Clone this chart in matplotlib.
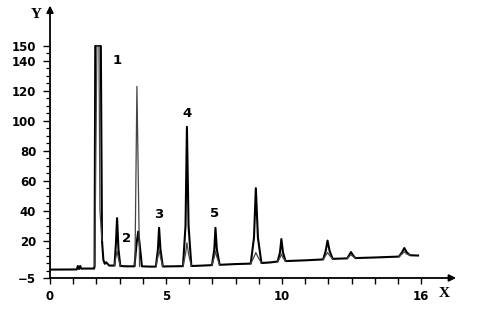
import matplotlib
matplotlib.use("Agg")
import matplotlib.pyplot as plt

# ---- data ----
trace_a_x = [0.0, 1.15, 1.2, 1.25, 1.3, 1.35, 1.45, 1.9,
             1.92, 1.95, 2.19, 2.24, 2.3, 2.36, 2.42, 2.55,
             2.78, 2.84, 2.89, 2.95, 3.03, 3.3,
             3.64, 3.73, 3.8, 3.86, 3.96, 4.3,
             4.56, 4.65, 4.7, 4.76, 4.86, 5.3,
             5.73, 5.84, 5.9, 5.97, 6.09, 6.6,
             6.98, 7.08, 7.13, 7.19, 7.31, 8.0,
             8.65, 8.79, 8.87, 8.96, 9.11, 9.5,
             9.81, 9.91, 9.97, 10.04, 10.15, 11.0,
             11.77, 11.88, 11.96, 12.05, 12.18, 12.6,
             12.81, 12.9, 12.97, 13.05, 13.16, 14.0,
             15.04, 15.17, 15.27, 15.37, 15.51, 15.86]
trace_a_y = [0.6, 0.7, 3.0, 1.0, 3.0, 1.2, 1.3, 1.3,
             3.0, 150, 150, 20, 7, 4.5, 5.5, 3.3,
             3.3, 18, 35, 14, 3.0, 2.8,
             2.8, 18, 26, 18, 2.8, 2.6,
             2.6, 14, 28.5, 14, 2.7, 2.8,
             2.9, 30, 96, 30, 3.0, 3.3,
             3.6, 14, 28.5, 14, 3.8, 4.3,
             4.6, 22, 55, 22, 5.0, 5.4,
             6.0, 12, 21, 12, 6.3, 6.8,
             7.4, 13, 20, 13, 7.8, 8.0,
             8.1, 10.5, 12.3, 10.3, 8.3, 8.7,
             9.3, 12.2, 15.0, 12.2, 10.2, 10.0]

trace_b_x = [1.93, 2.02, 2.11, 2.15, 2.24,
             2.78, 2.84, 2.89, 2.95, 3.03,
             3.66, 3.745, 3.86,
             4.56, 4.65, 4.7, 4.76, 4.86,
             5.73, 5.84, 5.9, 5.97, 6.09,
             6.98, 7.08, 7.13, 7.19, 7.31,
             8.65, 8.79, 8.87, 8.96, 9.11,
             9.81, 9.91, 9.97, 10.04, 10.15,
             11.77, 11.88, 11.96, 12.05, 12.18,
             12.81, 12.9, 12.97, 13.05, 13.16,
             15.04, 15.17, 15.27, 15.37, 15.51]
trace_b_y = [3.0, 150, 150, 40, 20,
             3.3, 9, 13, 8, 3.0,
             2.8, 123, 2.8,
             2.6, 9, 14, 9, 2.7,
             2.9, 11, 18.5, 11, 3.0,
             3.6, 9, 13, 9, 3.8,
             4.6, 9, 12, 9, 5.0,
             6.0, 8.5, 11, 8.5, 6.3,
             7.4, 10, 12, 10, 7.8,
             8.1, 9.5, 10.5, 9.5, 8.3,
             9.3, 11, 12.5, 11, 10.2]
# number of points in each trace-B peak segment
trace_b_groups = [5, 5, 3, 5, 5, 5, 5, 5, 5, 5, 5]

peak_labels = ["1", "2", "3", "4", "5"]
peak_label_x = [2.89, 3.28, 4.7, 5.9, 7.11]
peak_label_y = [140, 21.5, 37.5, 105, 38]

x_ticks = list(range(0, 17))
x_tick_labels = ["0", "", "", "", "", "5", "", "", "", "", "10", "", "", "", "", "", "16"]
y_major = [-5, 20, 40, 60, 80, 100, 120, 140, 150]
y_minor = list(range(-5, 151, 5))

# ---- figure ----
fig = plt.figure(figsize=(4.8, 3.16), dpi=100)
ax = fig.add_axes([0.1042, 0.1203, 0.846, 0.862])
ax.set_xlim(0, 17.5)
ax.set_ylim(-5, 177)

ax.plot(trace_a_x, trace_a_y, color="black", lw=1.5, solid_joinstyle="round")
start = 0
for n in trace_b_groups:
    ax.plot(trace_b_x[start:start + n], trace_b_y[start:start + n],
            color="#444444", lw=0.9)
    start += n

for s in ax.spines.values():
    s.set_visible(False)

# axes as arrows
ax.annotate("", xy=(1.0, 0), xytext=(0, 0), xycoords="axes fraction",
            arrowprops=dict(arrowstyle="-|>", lw=1.3, color="black",
                            mutation_scale=10, shrinkA=0, shrinkB=0))
ax.annotate("", xy=(0, 1.0), xytext=(0, 0), xycoords="axes fraction",
            arrowprops=dict(arrowstyle="-|>", lw=1.3, color="black",
                            mutation_scale=10, shrinkA=0, shrinkB=0))

ax.set_xticks(x_ticks)
ax.set_xticklabels(x_tick_labels)
ax.set_yticks(y_major)
ax.set_yticklabels([str(v).replace("-", "\u2212") for v in y_major])
ax.set_yticks(y_minor, minor=True)
ax.tick_params(axis="x", direction="out", length=4.5, width=1.0, pad=4,
               labelsize=8.5)
ax.tick_params(axis="y", which="major", direction="out", length=5, width=1.0,
               pad=5, labelsize=8.5)
ax.tick_params(axis="y", which="minor", direction="out", length=3, width=0.9)
for lab in ax.get_xticklabels() + ax.get_yticklabels():
    lab.set_fontweight("bold")
    lab.set_family("DejaVu Sans")

for t, x, y in zip(peak_labels, peak_label_x, peak_label_y):
    ax.text(x, y, t, ha="center", va="center", fontsize=9.5,
            fontweight="bold", family="DejaVu Sans")

ax.text(-0.6, 171, "Y", ha="center", va="center", fontsize=11,
        fontweight="bold", family="Liberation Serif", clip_on=False)
ax.text(17.0, -15.3, "X", ha="center", va="center", fontsize=11,
        fontweight="bold", family="Liberation Serif", clip_on=False)

fig.savefig("out.png", dpi=100)
